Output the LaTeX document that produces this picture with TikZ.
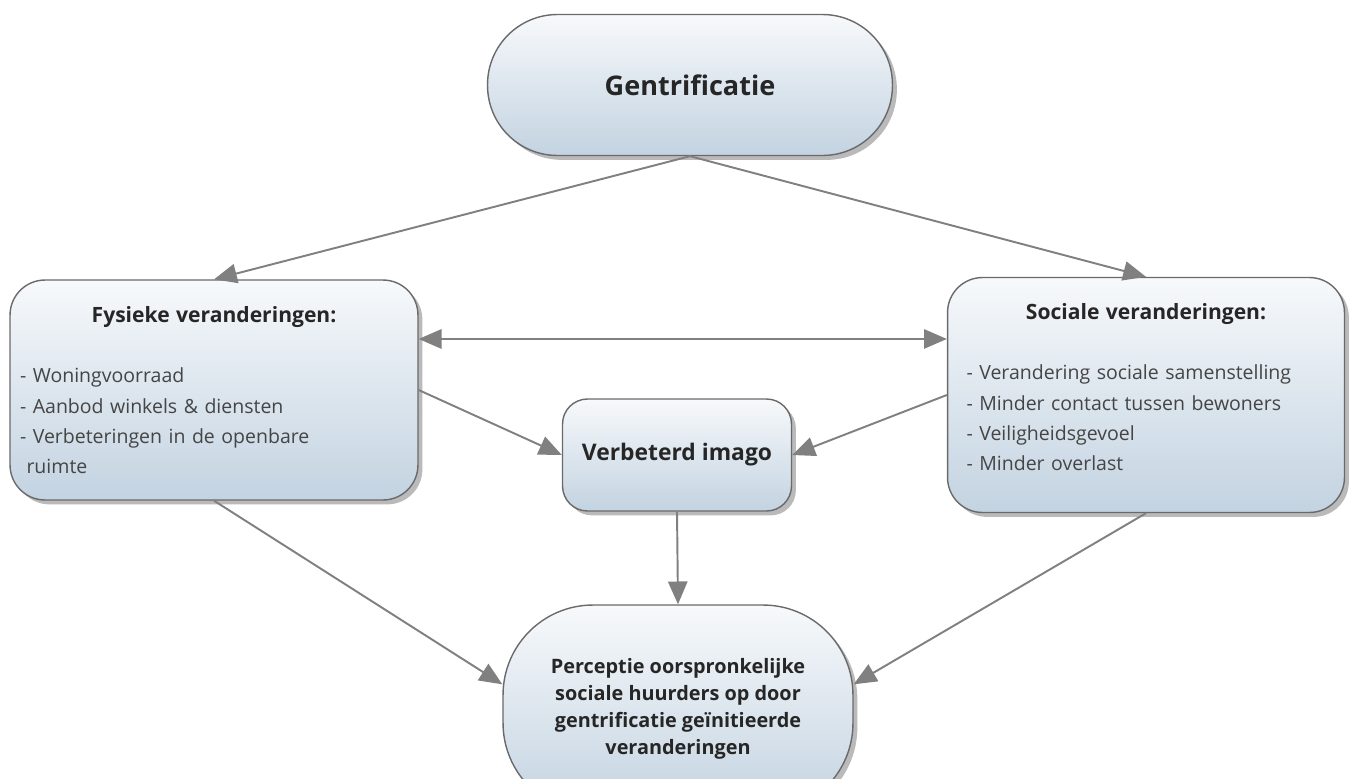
\documentclass[tikz,border=0pt]{standalone}
\usepackage{fontspec}
\setmainfont{Open Sans}
\usetikzlibrary{positioning,
shadows,
arrows.meta}
\definecolor{boxtop}{HTML}{F7F9FB}
\definecolor{boxbottom}{HTML}{C3D3E1}
\definecolor{boxline}{HTML}{6A6A6A}
\definecolor{linkgray}{HTML}{808080}
\definecolor{headtext}{HTML}{262626}
\definecolor{itemtext}{HTML}{454545}
\tikzset{
  % common look of all the boxes
  box/.style={
    draw=boxline,
    line width=0.8pt,
    top color=boxtop,
    bottom color=boxbottom,
    drop shadow={shadow xshift=2.5pt,shadow yshift=-2.5pt,opacity=.45,fill=black!60},
    text=headtext,
    font=\bfseries,
  },
  % box with a list of changes in it
  listbox/.style={
    box,
    rounded corners=0.7cm,
    align=left,
    font=\fontsize{11.1}{17.2}\selectfont,
  },
  % grey connectors with solid heads
  link/.style={
    draw=linkgray,
    line width=1.1pt,
    -{Triangle[length=13pt,width=11pt]},
  },
}
\newcommand{\listhead}[1]{{\centering\fontsize{12}{17.2}\bfseries\color{headtext}#1\par}\mbox{}\\}
\newcommand{\listitem}[1]{{\color{itemtext}- #1}}

\begin{document}
\begin{tikzpicture}[x=0.02cm,y=-0.02cm]
            \useasboundingbox (0,0) rectangle (1352,778);

            \node[box,rounded corners=1.4cm,minimum width=8.1cm,minimum height=2.82cm,
              font=\fontsize{15.4}{18}\bfseries] (gen) at (690,85) {Gentrificatie};
            \node[listbox,minimum width=8.16cm,minimum height=4.4cm,text width=7.76cm,
              inner xsep=0.2cm] (fys) at (214,390) {%
              \listhead{Fysieke veranderingen:}
              \listitem{Woningvoorraad}\\
              \listitem{Aanbod winkels \& diensten}\\
              \listitem{Verbeteringen in de openbare}\\
              \color{itemtext}\ ruimte};
            \node[listbox,minimum width=7.94cm,minimum height=4.7cm,text width=7.18cm,
              inner xsep=0.38cm] (soc) at (1146,395) {%
              \listhead{Sociale veranderingen:}
              \listitem{Verandering sociale samenstelling}\\
              \listitem{Minder contact tussen bewoners}\\
              \listitem{Veiligheidsgevoel}\\
              \listitem{Minder overlast}\par\vspace{9pt}};
            \node[box,rounded corners=0.5cm,minimum width=4.58cm,minimum height=2.24cm,
              font=\fontsize{13}{16}\bfseries] (mid) at (677,455) {Verbeterd imago};
            \node[box,rounded corners=1.8cm,minimum width=7cm,minimum height=4.16cm,
              align=center,font=\fontsize{11.3}{15.4}\bfseries] (bot) at (678,709)
              {Perceptie oorspronkelijke\\sociale huurders op door\\gentrificatie geïnitieerde\\veranderingen};

            \path [link] (gen.south) -- (fys.north);
            \path [link] (gen.south) -- (soc.north);
            \path [link,{Triangle[length=13pt,width=11pt]}-{Triangle[length=13pt,width=11pt]}]
            (fys.14.6) -- (fys.14.6 -| soc.west);
            \path [link] (fys.east) -- (mid.west);
            \path [link] (soc.west) -- (mid.east);
            \path [link] (mid.south) -- (bot.north);
            \path [link] (fys.south) -- (bot.172);
            \path [link] (soc.south) -- (bot.8);
        \end{tikzpicture}
\end{document}
